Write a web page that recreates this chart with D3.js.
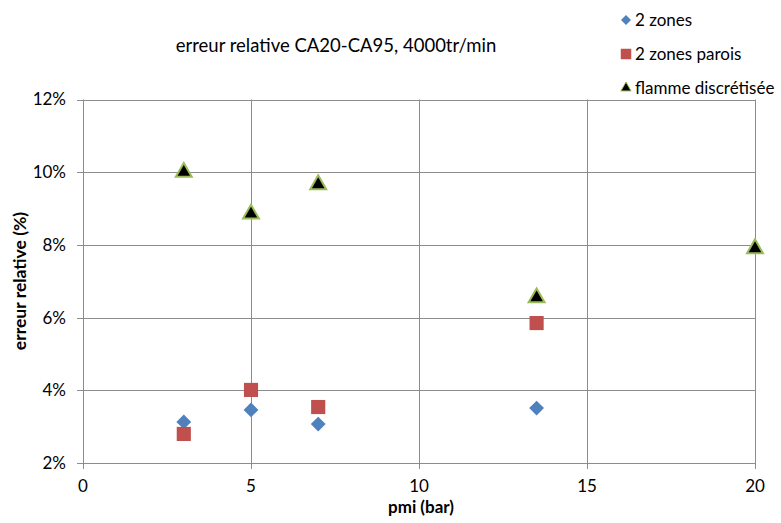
<!DOCTYPE html>
<html>
<head>
<meta charset="utf-8">
<script src="https://cdn.jsdelivr.net/npm/d3@7"></script>
<style>
  body { margin: 0; background: #fff; }
  svg { font-family: Lato, "Open Sans", sans-serif; }
</style>
</head>
<body>
<div id="chart"></div>
<script>
const xTicks = [0, 5, 10, 15, 20];
const yTicks = [0.02, 0.04, 0.06, 0.08, 0.10, 0.12];

const zonesX = [3, 5, 7, 13.5];
const zonesY = [0.0313, 0.0346, 0.0307, 0.0351];

const paroisX = [3, 5, 7, 13.5];
const paroisY = [0.0280, 0.0401, 0.0354, 0.0585];

const flammeX = [3, 5, 7, 13.5, 20];
const flammeY = [0.1000, 0.0885, 0.0966, 0.0655, 0.0790];

const seriesNames = ["2 zones", "2 zones parois", "flamme discrétisée"];

const width = 781, height = 523;
const plotLeft = 83, plotRight = 755, plotTop = 99.5, plotBottom = 463;

const svg = d3.select("#chart").append("svg")
  .attr("width", width)
  .attr("height", height);

const x = d3.scaleLinear().domain([0, 20]).range([plotLeft, plotRight]);
const y = d3.scaleLinear().domain([0.02, 0.12]).range([plotBottom, plotTop]);

// grid
svg.append("g").selectAll("line")
  .data(yTicks)
  .enter().append("line")
  .attr("x1", plotLeft - 6).attr("x2", plotRight)
  .attr("y1", d => Math.round(y(d)) + 0.5).attr("y2", d => Math.round(y(d)) + 0.5)
  .attr("stroke", "#8c8c8c").attr("stroke-width", 1);

svg.append("g").selectAll("line")
  .data(xTicks)
  .enter().append("line")
  .attr("x1", d => Math.round(x(d)) + 0.5).attr("x2", d => Math.round(x(d)) + 0.5)
  .attr("y1", plotTop).attr("y2", plotBottom + 6)
  .attr("stroke", "#8c8c8c").attr("stroke-width", 1);

// tick labels
svg.append("g").selectAll("text")
  .data(yTicks)
  .enter().append("text")
  .attr("x", 66)
  .attr("y", d => y(d))
  .attr("dy", "0.35em")
  .attr("text-anchor", "end")
  .attr("fill", "#000")
  .style("font-size", "17px")
  .text(d => d3.format(".0%")(d));

svg.append("g").selectAll("text")
  .data(xTicks)
  .enter().append("text")
  .attr("x", d => x(d))
  .attr("y", 492)
  .attr("text-anchor", "middle")
  .attr("fill", "#000")
  .style("font-size", "17px")
  .text(d => d);

// titles
svg.append("text")
  .attr("x", 336).attr("y", 52)
  .attr("text-anchor", "middle")
  .style("font-size", "18.5px")
  .text("erreur relative CA20-CA95, 4000tr/min");

svg.append("text")
  .attr("x", 421).attr("y", 513)
  .attr("text-anchor", "middle")
  .style("font-size", "17px")
  .style("font-weight", "bold")
  .text("pmi (bar)");

svg.append("text")
  .attr("transform", "translate(26, 281) rotate(-90)")
  .attr("text-anchor", "middle")
  .style("font-size", "17.5px")
  .style("font-weight", "bold")
  .text("erreur relative (%)");

// markers
const diamond = d3.symbol().type(d3.symbolSquare).size(110);
const square = d3.symbol().type(d3.symbolSquare).size(200);
const triangle = d3.symbol().type(d3.symbolTriangle).size(110);

svg.append("g").selectAll("path")
  .data(zonesX.map((d, i) => [d, zonesY[i]]))
  .enter().append("path")
  .attr("d", diamond)
  .attr("transform", d => `translate(${x(d[0])},${y(d[1])}) rotate(45)`)
  .attr("fill", "#4F81BD");

svg.append("g").selectAll("path")
  .data(paroisX.map((d, i) => [d, paroisY[i]]))
  .enter().append("path")
  .attr("d", square)
  .attr("transform", d => `translate(${x(d[0])},${y(d[1])})`)
  .attr("fill", "#C0504D");

svg.append("g").selectAll("path")
  .data(flammeX.map((d, i) => [d, flammeY[i]]))
  .enter().append("path")
  .attr("d", triangle)
  .attr("transform", d => `translate(${x(d[0])},${y(d[1])})`)
  .attr("fill", "#000")
  .attr("stroke", "#9BBB59")
  .attr("stroke-width", 2);

// legend
const legend = svg.append("g");
const legendSyms = [
  { sym: d3.symbol().type(d3.symbolSquare).size(50), fill: "#4F81BD", stroke: "none", rot: 45 },
  { sym: d3.symbol().type(d3.symbolSquare).size(110), fill: "#C0504D", stroke: "none", rot: 0 },
  { sym: d3.symbol().type(d3.symbolTriangle).size(45), fill: "#000", stroke: "#9BBB59", rot: 0 }
];
seriesNames.forEach((name, i) => {
  const ly = 20 + i * 34;
  legend.append("path")
    .attr("d", legendSyms[i].sym)
    .attr("transform", `translate(626,${ly}) rotate(${legendSyms[i].rot})`)
    .attr("fill", legendSyms[i].fill)
    .attr("stroke", legendSyms[i].stroke)
    .attr("stroke-width", 1);
  legend.append("text")
    .attr("x", 635).attr("y", ly)
    .attr("dy", "0.35em")
    .style("font-size", "17px")
    .text(name);
});
</script>
</body>
</html>
